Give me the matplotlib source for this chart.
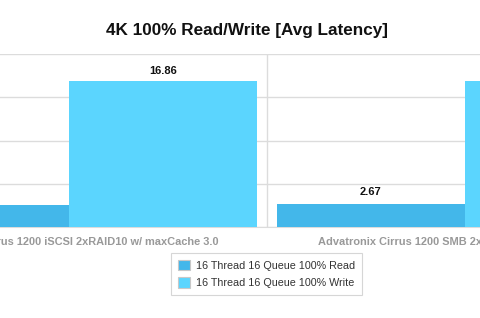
import matplotlib
matplotlib.use('Agg')
from matplotlib import pyplot as plt
from matplotlib.patches import Patch
import numpy as np

categories = ["Advatronix Cirrus 1200 iSCSI 2xRAID10 w/ maxCache 3.0",
              "Advatronix Cirrus 1200 SMB 2xRAID10 w/ maxCache 3.0"]
series = ["16 Thread 16 Queue 100% Read", "16 Thread 16 Queue 100% Write"]
read_vals = [2.55, 2.67]
write_vals = [16.86, 16.88]

read_color = '#43b7ea'
write_color = '#5bd5fe'

plt.rcParams['font.family'] = ['Liberation Sans', 'DejaVu Sans']

fig = plt.figure(figsize=(4.8, 3.18), dpi=100)
ax = fig.add_axes([0, 91 / 318, 1, 173 / 318])

x = np.arange(len(categories))
w = 188 / 396

ax.bar(x - w / 2, read_vals, w, color=read_color, zorder=3)
ax.bar(x + w / 2, write_vals, w, color=write_color, zorder=3)

for i in range(len(categories)):
    ax.text(x[i] - w / 2, read_vals[i] + 0.75, '%.2f' % read_vals[i], ha='center', va='bottom',
            fontsize=8, fontweight='bold', color='#111111')
    ax.text(x[i] + w / 2, write_vals[i] + 0.6, '%.2f' % write_vals[i], ha='center', va='bottom',
            fontsize=8, fontweight='bold', color='#111111')

ax.set_xlim(-69 / 396, 411 / 396)
ax.set_ylim(0, 20)
ax.set_yticks([0, 5, 10, 15, 20])
ax.set_yticklabels([])
ax.yaxis.grid(True, color='#dcdcdc', lw=1)
for xv in [-0.5, 0.5, 1.5]:
    ax.axvline(xv, color='#dcdcdc', lw=1, zorder=1)

ax.set_xticks(x)
ax.set_xticklabels(categories, fontsize=7.9, fontweight='bold', color='#999999')
ax.tick_params(length=0, pad=7)
for s in ['left', 'right', 'top']:
    ax.spines[s].set_visible(False)
ax.spines['bottom'].set_color('#dcdcdc')

fig.text(247 / 480, 1 - 30 / 318, "4K 100% Read/Write [Avg Latency]", ha='center', va='center',
         fontsize=12.3, fontweight='bold', color='#111111')

handles = [Patch(facecolor=read_color, edgecolor='#c8c8c8', lw=0.8),
           Patch(facecolor=write_color, edgecolor='#c8c8c8', lw=0.8)]
leg = fig.legend(handles, series, loc='upper left', bbox_to_anchor=(171 / 480, 1 - 253 / 318),
                 fontsize=7.75, frameon=True, fancybox=False, edgecolor='#cccccc',
                 handlelength=1.1, handleheight=1.1, handletextpad=0.6, labelspacing=0.6,
                 borderpad=0.65, borderaxespad=0, labelcolor='#333333')
leg.get_frame().set_linewidth(0.8)

plt.savefig('out.png', dpi=100)
